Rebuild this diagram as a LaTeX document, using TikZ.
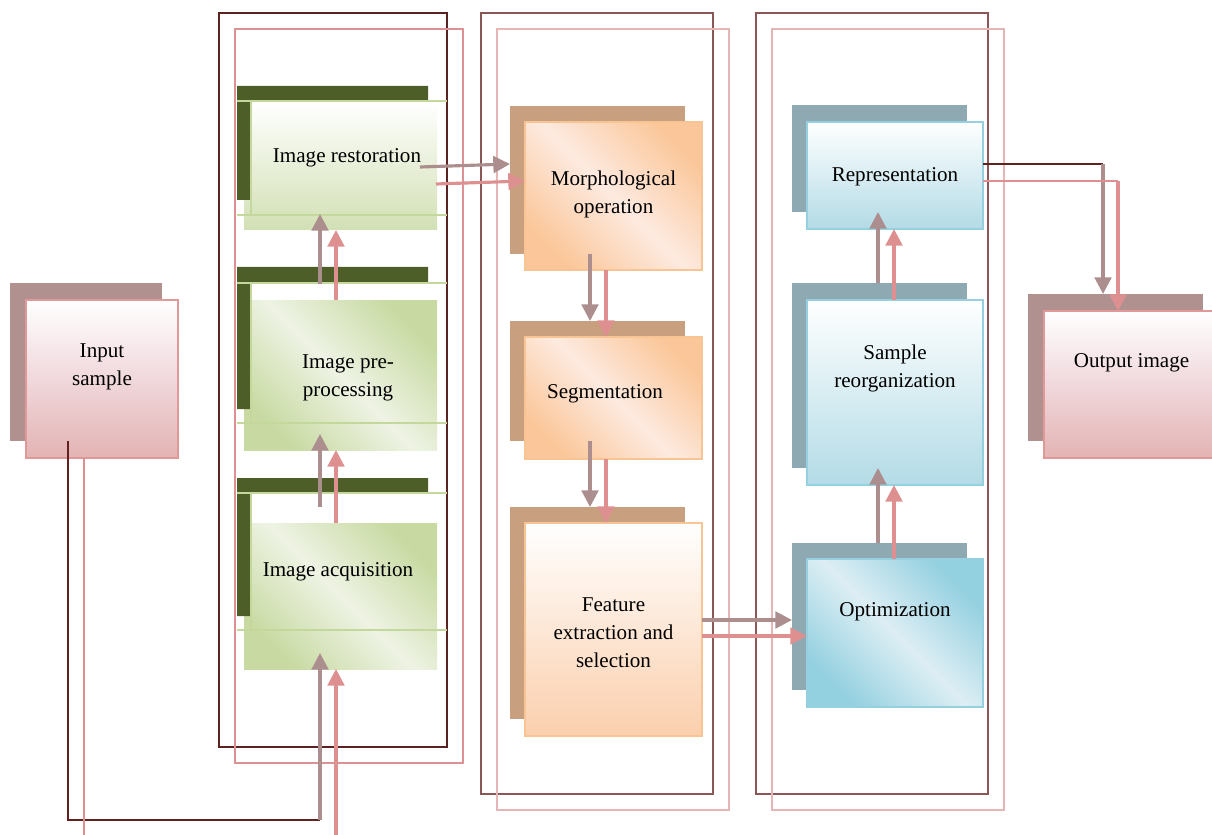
\documentclass[tikz,border=0pt]{standalone}
\usepackage{fontspec}
\setmainfont{Liberation Serif}
\usetikzlibrary{arrows.meta,positioning}
% colours
\definecolor{frameA}{HTML}{5C2222}
\definecolor{frameB}{HTML}{DC9292}
\definecolor{frameC}{HTML}{8A5656}
\definecolor{frameD}{HTML}{E6B6B6}
\definecolor{oliv}{HTML}{4E5E28}
\definecolor{olivline}{HTML}{C4D89C}
\definecolor{greendeep}{HTML}{C8DAA2}
\definecolor{greenpale}{HTML}{EEF3E4}
\definecolor{greenbot}{HTML}{D2E0B4}
\definecolor{orangeshad}{HTML}{C8A080}
\definecolor{orangeline}{HTML}{F9C493}
\definecolor{orangedeep}{HTML}{FBC79A}
\definecolor{orangepale}{HTML}{FDEAE0}
\definecolor{orangebot}{HTML}{FBCFAD}
\definecolor{blueshad}{HTML}{8EA9B1}
\definecolor{blueline}{HTML}{94D0DF}
\definecolor{bluebot}{HTML}{B3DBE6}
\definecolor{bluedeep}{HTML}{93D0E0}
\definecolor{bluepale}{HTML}{DDEEF4}
\definecolor{roseshad}{HTML}{B19190}
\definecolor{roseline}{HTML}{E09898}
\definecolor{rosemid}{HTML}{F0D8DC}
\definecolor{rosebot}{HTML}{E3B3B3}
\definecolor{darkarrow}{HTML}{AC8E8E}
\definecolor{pinkarrow}{HTML}{DE9090}
\definecolor{darkwire}{HTML}{62201F}
\tikzset{
  sz/.style 2 args={minimum width=#1*0.02cm, minimum height=#2*0.02cm, inner sep=0pt, outer sep=0pt},
  shad/.style={fill=#1, draw=none},
  txt/.style={font=\fontsize{12}{16}\selectfont, align=center, inner sep=0pt, text=black},
  rosebox/.style={draw=roseline, line width=1.1pt, top color=white, bottom color=rosebot, middle color=rosemid},
  greenflat/.style={draw=none, top color=white, bottom color=greenbot},
  greenmottle/.style={draw=none, top color=greendeep, bottom color=greendeep, middle color=greenpale, shading angle=-45},
  orangebox/.style={draw=orangeline, line width=1.1pt, top color=orangedeep, bottom color=orangedeep, middle color=orangepale, shading angle=-45},
  orangeflat/.style={draw=orangeline, line width=1.1pt, top color=white, bottom color=orangebot},
  bluebox/.style={draw=blueline, line width=0.6pt, top color=white, bottom color=bluebot},
  bluemottle/.style={draw=blueline, line width=0.6pt, top color=bluedeep, bottom color=bluedeep, middle color=bluepale, shading angle=-45},
  gline/.style={draw=olivline, line width=0.6pt},
  darr/.style={draw=darkarrow, line width=1.8pt, -{Triangle[width=9.5pt,length=9.5pt]}},
  parr/.style={draw=pinkarrow, line width=1.8pt, -{Triangle[width=9.5pt,length=9.5pt]}},
  dwire/.style={draw=darkwire, line width=1.3pt},
  pwire/.style={draw=pinkarrow, line width=1.5pt},
}
\begin{document}
\begin{tikzpicture}[x=0.02cm, y=-0.02cm]
\useasboundingbox (0,0) rectangle (1212,834);
\clip (0,0) rectangle (1212,834);
% group frames
\draw[frameA, line width=0.7pt] (219,13) rectangle (447,747);
\draw[frameB, line width=0.7pt] (235,29) rectangle (463,763);
\draw[frameC, line width=0.7pt] (481,13) rectangle (713,794);
\draw[frameD, line width=0.7pt] (497,29) rectangle (729,810);
\draw[frameC, line width=0.7pt] (756,13) rectangle (988,794);
\draw[frameD, line width=0.7pt] (772,29) rectangle (1004,810);

% input / output
\node[shad=roseshad, sz={152}{158}] (inS) at (86,362) {};
\node[rosebox, sz={152}{158}] (in) at (102,379) {};
\node[txt] (inT) at ([yshift=0.24cm]in.center) {Input\\sample};
\node[shad=roseshad, sz={175}{147}] (outS) at (1115.5,367.5) {};
\node[rosebox, sz={175}{147}] (out) at (1131.5,384.5) {};
\node[txt] (outT) at ([yshift=0.43cm]out.center) {Output image};

% green column
\node[greenflat, sz={193}{129}] (rest) at (340.5,165.5) {};
\node[greenmottle, sz={193}{150}] (pre) at (340.5,375) {};
\node[greenmottle, sz={193}{146}] (acq) at (340.5,596) {};
\fill[oliv] (237,86) rectangle (428,101) (237,101) rectangle (251,200);
\fill[oliv] (237,267) rectangle (428,283) (237,283) rectangle (251,409);
\fill[oliv] (237,478) rectangle (428,493) (237,493) rectangle (251,616);
\draw[gline] (237,101) -- (447,101) (237,215) -- (447,215) (251,101) -- (251,215);
\draw[gline] (237,283) -- (447,283) (237,423) -- (447,423) (251,283) -- (251,423);
\draw[gline] (237,493) -- (447,493) (237,630) -- (447,630) (251,493) -- (251,630);
\node[txt] (restT) at ([xshift=0.13cm,yshift=0.16cm]rest.center) {Image restoration};
\node[txt] (preT) at ([xshift=0.15cm,yshift=-0.06cm]pre.center) {Image pre-\\processing};
\node[txt] (acqT) at ([xshift=-0.05cm,yshift=0.48cm]acq.center) {Image acquisition};

% orange column
\node[shad=orangeshad, sz={175}{148}] (morphS) at (597.5,180) {};
\node[orangebox, sz={177}{148}] (morph) at (613.5,196) {};
\node[txt] (morphT) at ([yshift=0.04cm]morph.center) {Morphological\\operation};
\node[shad=orangeshad, sz={175}{120}] (segS) at (597.5,381) {};
\node[orangebox, sz={177}{122}] (seg) at (613.5,398) {};
\node[txt] (segT) at ([xshift=-0.17cm,yshift=0.08cm]seg.center) {Segmentation};
\node[shad=orangeshad, sz={175}{212}] (featS) at (597.5,613) {};
\node[orangeflat, sz={177}{213}] (feat) at (613.5,629.5) {};
\node[txt] (featT) at ([yshift=-0.07cm]feat.center) {Feature\\extraction and\\selection};

% blue column
\node[shad=blueshad, sz={175}{107}] (reprS) at (879.5,158.5) {};
\node[bluebox, sz={176}{107}] (repr) at (895,175.5) {};
\node[txt] (reprT) at ([yshift=-0.03cm]repr.center) {Representation};
\node[shad=blueshad, sz={175}{185}] (sampS) at (879.5,375.5) {};
\node[bluebox, sz={176}{185}] (samp) at (895,392.5) {};
\node[txt] (sampT) at ([yshift=0.48cm]samp.center) {Sample\\reorganization};
\node[shad=blueshad, sz={175}{147}] (optS) at (879.5,616.5) {};
\node[bluemottle, sz={176}{148}] (opt) at (895,633) {};
\node[txt] (optT) at ([yshift=0.42cm]opt.center) {Optimization};

% input -> acquisition
\coordinate (inD) at ([xshift=-0.36cm]inS.south);
\coordinate (inP) at ([xshift=-0.36cm]in.south);
\coordinate (acqD) at ([xshift=-0.41cm,yshift=0.32cm]acq.south);
\coordinate (acqP) at ([xshift=-0.09cm]acq.south);
\coordinate (bendD) at ([yshift=-3.34cm]acqD);
\coordinate (bendP) at ([yshift=-3.7cm]acqP);
\draw[dwire] (inD) |- (bendD);
\draw[darr] (bendD) -- (acqD);
\draw[pwire] (inP) |- (bendP);
\draw[parr] (bendP) -- (acqP);

% green column arrows
\draw[darr] ([xshift=-0.41cm,yshift=0.32cm]acq.north) -- ([xshift=-0.41cm,yshift=0.32cm]pre.south);
\draw[parr] ([xshift=-0.09cm]acq.north) -- ([xshift=-0.09cm]pre.south);
\draw[darr] ([xshift=-0.41cm,yshift=0.32cm]pre.north) -- ([xshift=-0.41cm,yshift=0.32cm]rest.south);
\draw[parr] ([xshift=-0.09cm]pre.north) -- ([xshift=-0.09cm]rest.south);

% restoration -> morphological
\draw[darr] ([xshift=-0.34cm,yshift=-0.03cm]rest.east) -- ([yshift=0.32cm]morphS.west);
\draw[parr] ([xshift=-0.02cm,yshift=-0.37cm]rest.east) -- ([yshift=0.3cm]morph.west);

% orange column arrows
\draw[darr] ([xshift=-0.15cm]morphS.south) -- ([xshift=-0.15cm]segS.north);
\draw[parr] ([xshift=-0.15cm]morph.south) -- ([xshift=-0.15cm]seg.north);
\draw[darr] ([xshift=-0.15cm]segS.south) -- ([xshift=-0.15cm]featS.north);
\draw[parr] ([xshift=-0.15cm]seg.south) -- ([xshift=-0.15cm]feat.north);

% feature -> optimization
\coordinate (optD) at ([yshift=-0.07cm]optS.west);
\coordinate (optP) at ([yshift=-0.06cm]opt.west);
\draw[darr] (optD -| feat.east) -- (optD);
\draw[parr] (optP -| feat.east) -- (optP);

% blue column arrows
\draw[darr] ([xshift=-0.03cm]optS.north) -- ([xshift=-0.03cm]sampS.south);
\draw[parr] ([xshift=-0.02cm]opt.north) -- ([xshift=-0.02cm]samp.south);
\draw[darr] ([xshift=-0.03cm]sampS.north) -- ([xshift=-0.03cm]reprS.south);
\draw[parr] ([xshift=-0.02cm]samp.north) -- ([xshift=-0.02cm]repr.south);

% representation -> output
\coordinate (reprD) at ([yshift=0.23cm]repr.east);
\coordinate (reprP) at ([yshift=-0.11cm]repr.east);
\coordinate (outD) at ([xshift=-0.25cm]outS.north);
\coordinate (outP) at ([xshift=-0.27cm]out.north);
\draw[darkwire, line width=0.6pt] (reprD) -- (reprD -| outD);
\draw[darr] (reprD -| outD) -- (outD);
\draw[pinkarrow, line width=0.6pt] (reprP) -- (reprP -| outP);
\draw[parr] (reprP -| outP) -- (outP);
\end{tikzpicture}
\end{document}
